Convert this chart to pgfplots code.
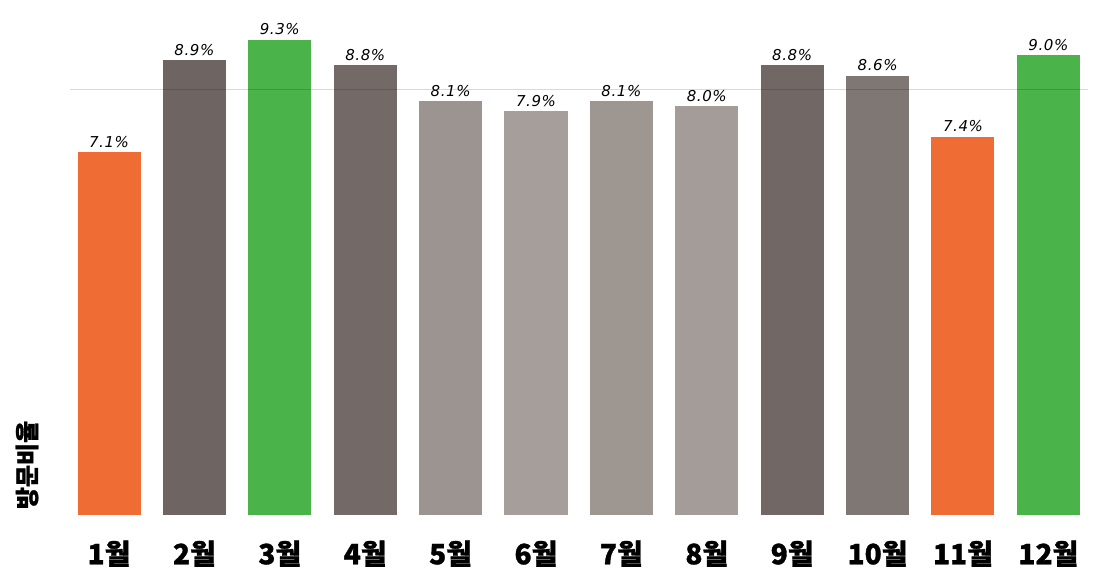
\documentclass[border=0pt]{standalone}
\usepackage{fontspec}
\usepackage{pgfplots}
\pgfplotsset{compat=1.18}
\newfontfamily\kr{Noto Sans CJK KR Black}[FakeBold=1.2]
\newfontfamily\dv{DejaVu Sans}[LetterSpace=4]
\definecolor{cOr}{HTML}{EF6D35}
\definecolor{cGr}{HTML}{4AB34A}
\definecolor{c2}{HTML}{6E6562}
\definecolor{c4}{HTML}{736A67}
\definecolor{c5}{HTML}{9C9490}
\definecolor{c6}{HTML}{A69E9B}
\definecolor{c7}{HTML}{9D9691}
\definecolor{c8}{HTML}{A49C99}
\definecolor{c9}{HTML}{716866}
\definecolor{c10}{HTML}{7E7774}
\begin{document}
\begin{tikzpicture}
\useasboundingbox (0,0) rectangle (1115pt,577pt);
\begin{axis}[
  at={(70pt,62pt)}, anchor=south west,
  scale only axis, width=1018pt, height=495pt,
  xmin=-0.457, xmax=11.464, ymin=0, ymax=9.69,
  axis line style={draw=none}, major tick style={draw=none},
  ytick=\empty,
  xtick={0,...,11},
  xticklabels={1월,2월,3월,4월,5월,6월,7월,8월,9월,10월,11월,12월},
  xticklabel style={font=\kr\fontsize{28pt}{30pt}\selectfont, anchor=base, yshift=-45pt, inner sep=0pt},
  ylabel={방문비율},
  ylabel style={at={(rel axis cs:-0.0422,0.101)}, anchor=center, font=\kr\fontsize{24pt}{26pt}\selectfont},
  ybar, bar shift=0pt, bar width=0.738,
  /pgf/number format/assume math mode=true,
  nodes near coords={\pgfmathprintnumber[fixed,fixed zerofill,precision=1,assume math mode=true]{\pgfplotspointmeta}\%},
  every node near coord/.append style={font=\dv\itshape\fontsize{15pt}{16pt}\selectfont, anchor=base, inner sep=0pt, yshift=5pt, text=black},
  clip=false,
]
\addplot[fill=cOr, draw=none] coordinates {(0,7.1)};
\addplot[fill=c2, draw=none] coordinates {(1,8.9)};
\addplot[fill=cGr, draw=none] coordinates {(2,9.3)};
\addplot[fill=c4, draw=none] coordinates {(3,8.8)};
\addplot[fill=c5, draw=none] coordinates {(4,8.1)};
\addplot[fill=c6, draw=none] coordinates {(5,7.9)};
\addplot[fill=c7, draw=none] coordinates {(6,8.1)};
\addplot[fill=c8, draw=none] coordinates {(7,8.0)};
\addplot[fill=c9, draw=none] coordinates {(8,8.8)};
\addplot[fill=c10, draw=none] coordinates {(9,8.6)};
\addplot[fill=cOr, draw=none] coordinates {(10,7.4)};
\addplot[fill=cGr, draw=none] coordinates {(11,9.0)};
\draw[black, opacity=0.15, line width=0.9pt] (axis cs:-0.457,8.33) -- (axis cs:11.464,8.33);
\end{axis}
\end{tikzpicture}
\end{document}
